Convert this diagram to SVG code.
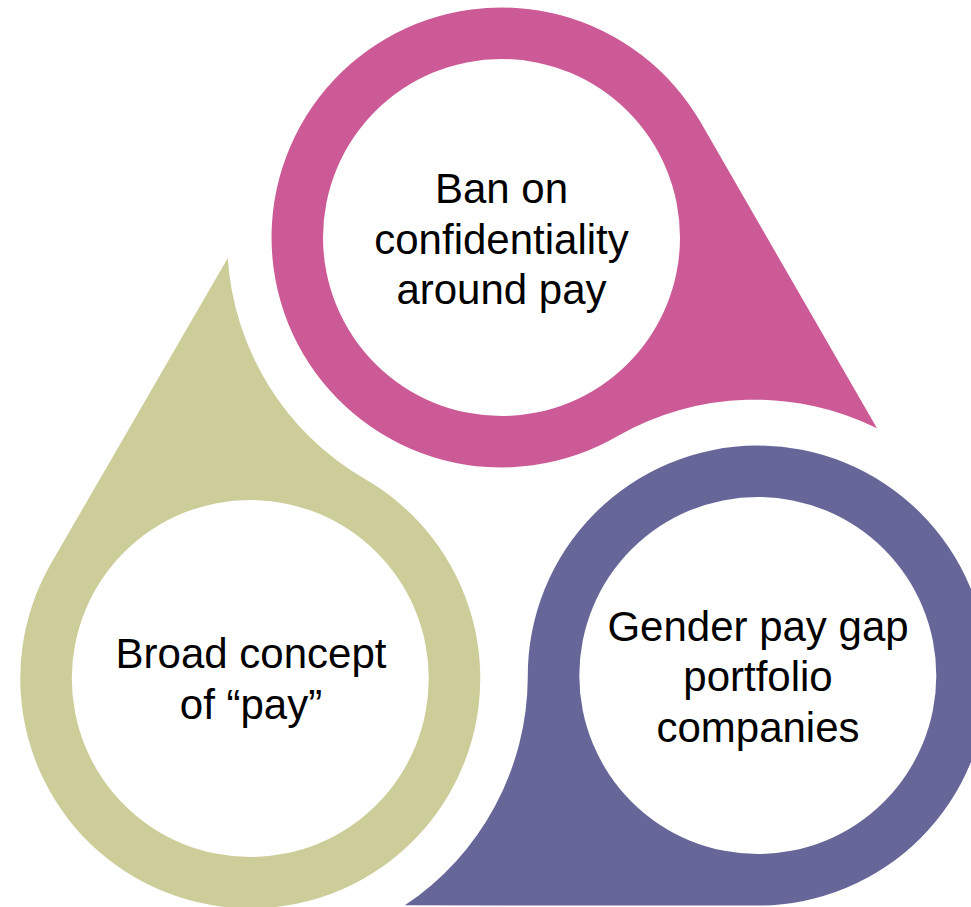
<svg xmlns="http://www.w3.org/2000/svg" width="971" height="907" viewBox="0 0 971 907">
  <style>
    .label { font-family: "Liberation Sans", Arial, sans-serif; font-size: 42px; fill: #000000; text-anchor: middle; }
    .hole { fill: #ffffff; }
  </style>
  <defs>
    <!-- Teardrop ring: circle around (501.5,237.5) with a tail toward the lower right -->
    <path id="drop" d="M700.8,122.6 L877,428.3 A276,276 0 0 0 617.7,436 A230,230 0 1 1 700.8,122.6 Z"/>
  </defs>
  <rect width="971" height="907" fill="#ffffff"/>

  <g id="node-confidentiality">
    <use href="#drop" fill="#CB5A96"/>
    <circle class="hole" cx="501.5" cy="237.5" r="178.5"/>
    <text class="label" x="501.5" y="203.3">Ban on</text>
    <text class="label" x="501.5" y="253.6">confidentiality</text>
    <text class="label" x="501.5" y="304">around pay</text>
  </g>

  <g id="node-gender-pay-gap">
    <use href="#drop" fill="#666699" transform="rotate(120 503.2 530.5)"/>
    <circle class="hole" cx="757.8" cy="675.5" r="178.5"/>
    <text class="label" x="758" y="640.7">Gender pay gap</text>
    <text class="label" x="758" y="691">portfolio</text>
    <text class="label" x="758" y="741.5">companies</text>
  </g>

  <g id="node-broad-pay">
    <use href="#drop" fill="#CCCD99" transform="rotate(240 503.2 530.5)"/>
    <circle class="hole" cx="250.3" cy="678.5" r="178.5"/>
    <text class="label" x="251" y="668.3">Broad concept</text>
    <text class="label" x="251" y="719">of “pay”</text>
  </g>
</svg>
